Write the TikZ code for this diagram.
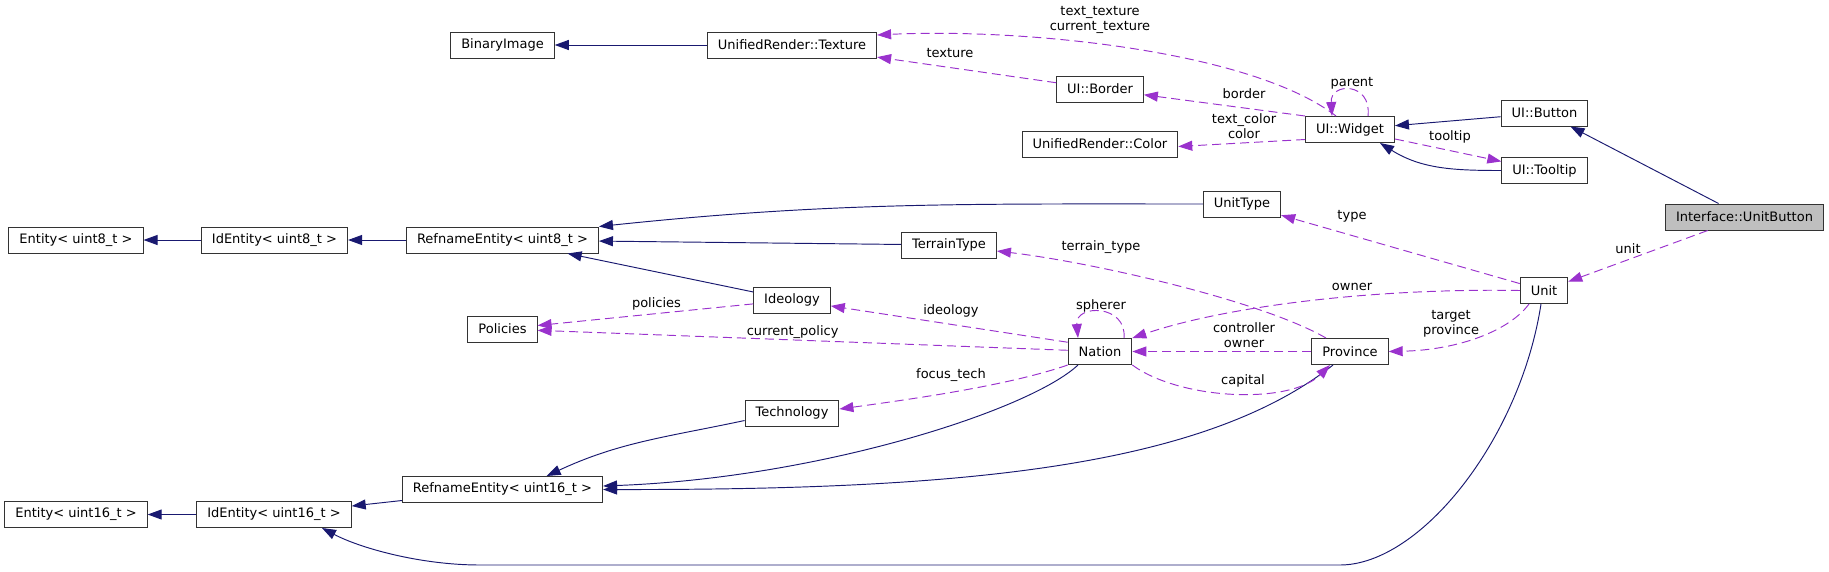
\documentclass[tikz,border=0pt]{standalone}
\usepackage{fontspec}
\setmainfont{DejaVu Sans}
\usetikzlibrary{arrows.meta}

\definecolor{navy}{HTML}{191970}
\definecolor{orchid}{HTML}{9A32CD}

\tikzset{
  cls/.style={draw=black!80,line width=1pt,fill=white,minimum height=26pt,
    inner xsep=10.5pt,inner ysep=0pt,font=\fontsize{13}{15}\selectfont},
  focus/.style={cls,fill=black!25},
  inh/.style={draw=navy,line width=0.95pt,-{Triangle[length=14pt,width=10pt]}},
  usage/.style={draw=orchid,line width=0.95pt,dash pattern=on 9pt off 5pt,
    -{Triangle[length=14pt,width=10pt]}},
  elabel/.style={inner sep=0pt,align=center,font=\fontsize{13}{15}\selectfont},
}

\begin{document}
\begin{tikzpicture}[x=1pt,y=-1pt]
\useasboundingbox (0,0) rectangle (1829,571);

%---------------------------------
% CLASES
%---------------------------------
\node[cls] (binimg)   at (502.5,45)  {BinaryImage};
\node[cls] (texture)  at (792,45)    {UnifiedRender::Texture};
\node[cls] (border)   at (1100,89)   {UI::Border};
\node[cls] (color)    at (1100,144)  {UnifiedRender::Color};
\node[cls] (widget)   at (1350,129.5) {UI::Widget};
\node[cls] (button)   at (1544.5,113) {UI::Button};
\node[cls] (tooltip)  at (1544.5,170.5) {UI::Tooltip};
\node[focus] (unitbtn) at (1744.5,217) {Interface::UnitButton};

\node[cls] (ent8)     at (76,240)    {Entity< uint8\_t >};
\node[cls] (id8)      at (274.5,240) {IdEntity< uint8\_t >};
\node[cls] (ref8)     at (502.5,240) {RefnameEntity< uint8\_t >};
\node[cls] (unittype) at (1242,204)  {UnitType};
\node[cls] (terrain)  at (949,245)   {TerrainType};
\node[cls] (ideology) at (792,300)   {Ideology};
\node[cls] (policies) at (502.5,329) {Policies};
\node[cls] (nation)   at (1100,351.5) {Nation};
\node[cls] (province) at (1350,351.5) {Province};
\node[cls] (unit)     at (1544,290.5) {Unit};
\node[cls] (tech)     at (792,413)   {Technology};

\node[cls] (ref16)    at (502.5,489.5) {RefnameEntity< uint16\_t >};
\node[cls] (id16)     at (274,514.5) {IdEntity< uint16\_t >};
\node[cls] (ent16)    at (76,514.5)  {Entity< uint16\_t >};

%---------------------------------
% HERENCIA
%---------------------------------
\draw[inh] (texture) -- (binimg);
\draw[inh] (button) -- (widget);
\draw[inh] (tooltip.west) to[out=180,in=-32] ([xshift=30pt]widget.south);
\draw[inh] (unitbtn) -- (button);
\draw[inh] (id8) -- (ent8);
\draw[inh] (ref8) -- (id8);
\draw[inh] (unittype.west) to[out=180,in=6] (ref8.north east);
\draw[inh] (terrain) -- (ref8);
\draw[inh] (ideology) -- (ref8);
\draw[inh] (tech.189) to[out=192,in=25] (ref16.17);
\draw[inh] ([xshift=-22pt]nation.south) .. controls (1030,410) and (820,478) .. ([yshift=3.5pt]ref16.east);
\draw[inh] ([xshift=-17pt]province.south) .. controls (1200,470) and (950,490) .. (ref16.east);
\draw[inh] (ref16) -- (id16);
\draw[inh] (id16) -- (ent16);
% unidad hasta IdEntity por debajo
\draw[inh] ([xshift=-3pt]unit.south) .. controls (1520,440) and (1420,565) .. (1340,565)
  -- (480,565) .. controls (420,565) and (360,548) .. ([xshift=48pt]id16.south);

%---------------------------------
% USO (punteado)
%---------------------------------
\draw[usage] ([xshift=-14pt]widget.north) .. controls (1250,50) and (1020,28) .. ([yshift=10pt]texture.east);
\draw[usage] (border) -- (texture);
\draw[usage] (widget.north west) -- (border);
\draw[usage] ([yshift=-10pt]widget.west) -- ([yshift=-2.5pt]color.east);
\draw[usage] ([xshift=18pt]widget.north) .. controls +(4,-34) and +(-2,-34) .. ([xshift=-18pt]widget.north);
\draw[usage] (widget) -- (tooltip);
\draw[usage] (unit) -- (unittype);
\draw[usage] (unitbtn) -- (unit);
\draw[usage] (unit.west) .. controls (1380,288) and (1230,305) .. (nation.north east);
\draw[usage] ([xshift=-15pt]unit.south) .. controls (1510,330) and (1460,350) .. (province.east);
\draw[usage] ([xshift=-24pt]province.north) .. controls (1260,300) and (1090,262) .. ([yshift=-6pt]terrain.east);
\draw[usage] (province) -- (nation);
\draw[usage] (nation.south east) .. controls (1180,400) and (1290,405) .. ([xshift=-20pt]province.south);
\draw[usage] ([xshift=24pt]nation.north) .. controls +(3,-34) and +(-3,-34) .. ([xshift=-22pt]nation.north);
\draw[usage] (nation.164) -- (ideology);
\draw[usage] (nation) -- (policies);
\draw[usage] (ideology) -- (policies);
\draw[usage] (nation.south west) .. controls (1010,385) and (920,398) .. ([yshift=4pt]tech.east);

%---------------------------------
% ETIQUETAS
%---------------------------------
\node[elabel] (l-tex2)     at (1100,19.5) {text\_texture\\current\_texture};
\node[elabel] (l-texture)  at (950,53)    {texture};
\node[elabel] (l-parent)   at (1352,83)   {parent};
\node[elabel] (l-border)   at (1244,94)   {border};
\node[elabel] (l-color)    at (1244,126.5) {text\_color\\color};
\node[elabel] (l-tooltip)  at (1450,137)  {tooltip};
\node[elabel] (l-type)     at (1352,216)  {type};
\node[elabel] (l-unit)     at (1628,249)  {unit};
\node[elabel] (l-terrain)  at (1101,247)  {terrain\_type};
\node[elabel] (l-owner)    at (1352,287)  {owner};
\node[elabel] (l-policies) at (656.5,304) {policies};
\node[elabel] (l-ideology) at (951,311)   {ideology};
\node[elabel] (l-spherer)  at (1101,306)  {spherer};
\node[elabel] (l-target)   at (1451,323.5) {target\\province};
\node[elabel] (l-ctrl)     at (1244,335.5) {controller\\owner};
\node[elabel] (l-curpol)   at (792.6,332) {current\_policy};
\node[elabel] (l-focus)    at (951,375)   {focus\_tech};
\node[elabel] (l-capital)  at (1243,381)  {capital};

\end{tikzpicture}
\end{document}
